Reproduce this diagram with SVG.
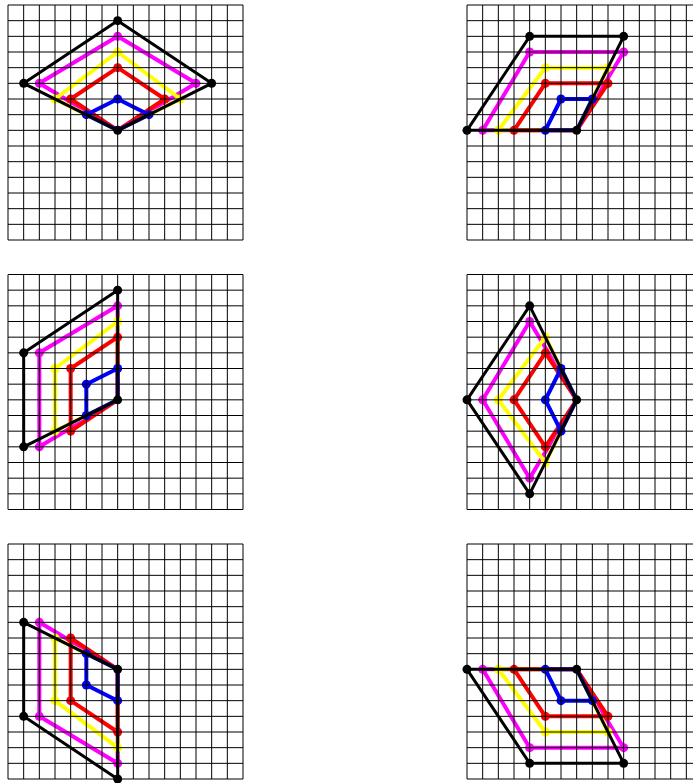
<svg xmlns="http://www.w3.org/2000/svg" xmlns:xlink="http://www.w3.org/1999/xlink" width="693" height="783" viewBox="0 0 693 783">
<style>
.grid{fill:none;stroke:#000;stroke-width:1}
.s{fill:none;stroke-linejoin:round;stroke-linecap:round}
.m{stroke:#ff00ff;stroke-width:4}
.y{stroke:#ffff00;stroke-width:4}
.r{stroke:#ff0000;stroke-width:4}
.b{stroke:#0000ff;stroke-width:4}
.k{stroke:#000;stroke-width:3}
.dm{fill:#ff00ff}.dy{fill:#ffff00}.dr{fill:#ff0000}.db{fill:#0000ff}.dk{fill:#000}
</style>
<defs>
<path id="grid" class="grid" d="M0 0V235M15.67 0V235M31.33 0V235M47 0V235M62.67 0V235M78.33 0V235M94 0V235M109.67 0V235M125.33 0V235M141 0V235M156.67 0V235M172.33 0V235M188 0V235M203.67 0V235M219.33 0V235M235 0V235M0 0H235M0 15.67H235M0 31.33H235M0 47H235M0 62.67H235M0 78.33H235M0 94H235M0 109.67H235M0 125.33H235M0 141H235M0 156.67H235M0 172.33H235M0 188H235M0 203.67H235M0 219.33H235M0 235H235"/>
<circle id="d" r="4.5"/>
</defs>
<rect width="693" height="783" fill="#fff"/>

<g id="panel1" transform="translate(8,5)">
<polygon class="s m" points="109.67,31.33 188,78.33 109.67,125.33 31.33,78.33"/>
<polygon class="s y" points="109.67,47 172.33,94 109.67,125.33 47,94"/>
<polygon class="s r" points="109.67,62.67 156.67,94 109.67,125.33 62.67,94"/>
<polygon class="s b" points="109.67,94 141,109.67 109.67,125.33 78.33,109.67"/>
<g class="dm"><use href="#d" x="109.67" y="31.33"/><use href="#d" x="188" y="78.33"/><use href="#d" x="31.33" y="78.33"/></g>
<g class="dy"><use href="#d" x="109.67" y="47"/><use href="#d" x="172.33" y="94"/><use href="#d" x="47" y="94"/></g>
<g class="dr"><use href="#d" x="109.67" y="62.67"/><use href="#d" x="156.67" y="94"/><use href="#d" x="62.67" y="94"/></g>
<g class="db"><use href="#d" x="109.67" y="94"/><use href="#d" x="141" y="109.67"/><use href="#d" x="78.33" y="109.67"/></g>
<polygon class="s k" points="109.67,15.67 203.67,78.33 109.67,125.33 15.67,78.33"/>
<g class="dk"><use href="#d" x="109.67" y="15.67"/><use href="#d" x="203.67" y="78.33"/><use href="#d" x="109.67" y="125.33"/><use href="#d" x="15.67" y="78.33"/></g>
<use href="#grid"/>
</g>

<g id="panel2" transform="translate(467,5)">
<polygon class="s m" points="62.67,47 156.67,47 109.67,125.33 15.67,125.33"/>
<polygon class="s y" points="78.33,62.67 141,62.67 109.67,125.33 31.33,125.33"/>
<polygon class="s r" points="78.33,78.33 141,78.33 109.67,125.33 47,125.33"/>
<polygon class="s b" points="94,94 125.33,94 109.67,125.33 78.33,125.33"/>
<g class="dm"><use href="#d" x="62.67" y="47"/><use href="#d" x="156.67" y="47"/><use href="#d" x="15.67" y="125.33"/></g>
<g class="dy"><use href="#d" x="78.33" y="62.67"/><use href="#d" x="141" y="62.67"/><use href="#d" x="31.33" y="125.33"/></g>
<g class="dr"><use href="#d" x="78.33" y="78.33"/><use href="#d" x="141" y="78.33"/><use href="#d" x="47" y="125.33"/></g>
<g class="db"><use href="#d" x="94" y="94"/><use href="#d" x="125.33" y="94"/><use href="#d" x="78.33" y="125.33"/></g>
<polygon class="s k" points="62.67,31.33 156.67,31.33 109.67,125.33 0,125.33"/>
<g class="dk"><use href="#d" x="62.67" y="31.33"/><use href="#d" x="156.67" y="31.33"/><use href="#d" x="109.67" y="125.33"/><use href="#d" x="0" y="125.33"/></g>
<use href="#grid"/>
</g>

<g id="panel3" transform="translate(8,274.5)">
<polygon class="s m" points="109.67,31.33 31.33,78.33 31.33,172.33 109.67,125.33"/>
<polygon class="s y" points="109.67,47 47,94 47,156.67 109.67,125.33"/>
<polygon class="s r" points="109.67,62.67 62.67,94 62.67,156.67 109.67,125.33"/>
<polygon class="s b" points="109.67,94 78.33,109.67 78.33,141 109.67,125.33"/>
<g class="dm"><use href="#d" x="109.67" y="31.33"/><use href="#d" x="31.33" y="78.33"/><use href="#d" x="31.33" y="172.33"/></g>
<g class="dy"><use href="#d" x="109.67" y="47"/><use href="#d" x="47" y="94"/><use href="#d" x="47" y="156.67"/></g>
<g class="dr"><use href="#d" x="109.67" y="62.67"/><use href="#d" x="62.67" y="94"/><use href="#d" x="62.67" y="156.67"/></g>
<g class="db"><use href="#d" x="109.67" y="94"/><use href="#d" x="78.33" y="109.67"/><use href="#d" x="78.33" y="141"/></g>
<polygon class="s k" points="109.67,15.67 15.67,78.33 15.67,172.33 109.67,125.33"/>
<g class="dk"><use href="#d" x="109.67" y="15.67"/><use href="#d" x="15.67" y="78.33"/><use href="#d" x="15.67" y="172.33"/><use href="#d" x="109.67" y="125.33"/></g>
<use href="#grid"/>
</g>

<g id="panel4" transform="translate(467,274.5)">
<polygon class="s m" points="62.67,47 109.67,125.33 62.67,203.67 15.67,125.33"/>
<polygon class="s y" points="78.33,62.67 109.67,125.33 78.33,188 31.33,125.33"/>
<polygon class="s r" points="78.33,78.33 109.67,125.33 78.33,172.33 47,125.33"/>
<polygon class="s b" points="94,94 109.67,125.33 94,156.67 78.33,125.33"/>
<g class="dm"><use href="#d" x="62.67" y="47"/><use href="#d" x="62.67" y="203.67"/><use href="#d" x="15.67" y="125.33"/></g>
<g class="dy"><use href="#d" x="78.33" y="62.67"/><use href="#d" x="78.33" y="188"/><use href="#d" x="31.33" y="125.33"/></g>
<g class="dr"><use href="#d" x="78.33" y="78.33"/><use href="#d" x="78.33" y="172.33"/><use href="#d" x="47" y="125.33"/></g>
<g class="db"><use href="#d" x="94" y="94"/><use href="#d" x="94" y="156.67"/><use href="#d" x="78.33" y="125.33"/></g>
<polygon class="s k" points="62.67,31.33 109.67,125.33 62.67,219.33 0,125.33"/>
<g class="dk"><use href="#d" x="62.67" y="31.33"/><use href="#d" x="109.67" y="125.33"/><use href="#d" x="62.67" y="219.33"/><use href="#d" x="0" y="125.33"/></g>
<use href="#grid"/>
</g>

<g id="panel5" transform="translate(8,544)">
<polygon class="s m" points="31.33,78.33 109.67,125.33 109.67,219.33 31.33,172.33"/>
<polygon class="s y" points="47,94 109.67,125.33 109.67,203.67 47,156.67"/>
<polygon class="s r" points="62.67,94 109.67,125.33 109.67,188 62.67,156.67"/>
<polygon class="s b" points="78.33,109.67 109.67,125.33 109.67,156.67 78.33,141"/>
<g class="dm"><use href="#d" x="31.33" y="78.33"/><use href="#d" x="109.67" y="219.33"/><use href="#d" x="31.33" y="172.33"/></g>
<g class="dy"><use href="#d" x="47" y="94"/><use href="#d" x="109.67" y="203.67"/><use href="#d" x="47" y="156.67"/></g>
<g class="dr"><use href="#d" x="62.67" y="94"/><use href="#d" x="109.67" y="188"/><use href="#d" x="62.67" y="156.67"/></g>
<g class="db"><use href="#d" x="78.33" y="109.67"/><use href="#d" x="109.67" y="156.67"/><use href="#d" x="78.33" y="141"/></g>
<polygon class="s k" points="15.67,78.33 109.67,125.33 109.67,235 15.67,172.33"/>
<g class="dk"><use href="#d" x="15.67" y="78.33"/><use href="#d" x="109.67" y="125.33"/><use href="#d" x="109.67" y="235"/><use href="#d" x="15.67" y="172.33"/></g>
<use href="#grid"/>
</g>

<g id="panel6" transform="translate(467,544)">
<polygon class="s m" points="15.67,125.33 109.67,125.33 156.67,203.67 62.67,203.67"/>
<polygon class="s y" points="31.33,125.33 109.67,125.33 141,188 78.33,188"/>
<polygon class="s r" points="47,125.33 109.67,125.33 141,172.33 78.33,172.33"/>
<polygon class="s b" points="78.33,125.33 109.67,125.33 125.33,156.67 94,156.67"/>
<g class="dm"><use href="#d" x="15.67" y="125.33"/><use href="#d" x="156.67" y="203.67"/><use href="#d" x="62.67" y="203.67"/></g>
<g class="dy"><use href="#d" x="31.33" y="125.33"/><use href="#d" x="141" y="188"/><use href="#d" x="78.33" y="188"/></g>
<g class="dr"><use href="#d" x="47" y="125.33"/><use href="#d" x="141" y="172.33"/><use href="#d" x="78.33" y="172.33"/></g>
<g class="db"><use href="#d" x="78.33" y="125.33"/><use href="#d" x="125.33" y="156.67"/><use href="#d" x="94" y="156.67"/></g>
<polygon class="s k" points="0,125.33 109.67,125.33 156.67,219.33 62.67,219.33"/>
<g class="dk"><use href="#d" x="0" y="125.33"/><use href="#d" x="109.67" y="125.33"/><use href="#d" x="156.67" y="219.33"/><use href="#d" x="62.67" y="219.33"/></g>
<use href="#grid"/>
</g>
</svg>
